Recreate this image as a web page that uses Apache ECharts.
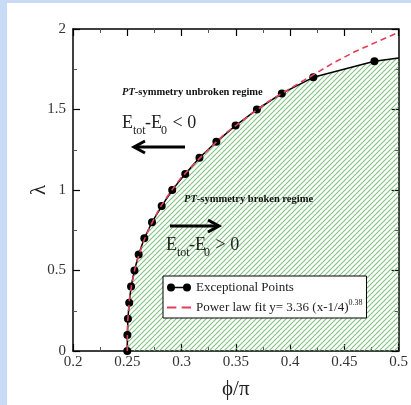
<!DOCTYPE html>
<html><head><meta charset="utf-8">
<script src="https://cdn.jsdelivr.net/npm/echarts@6/dist/echarts.min.js"></script>
<style>html,body{margin:0;padding:0;background:#fff}#c{width:411px;height:405px}</style>
</head><body><div id="c"></div>
<script>
// Exceptional points (phi/pi, lambda)
const epX = [0.25, 0.2501, 0.2506, 0.2518, 0.2535, 0.2566, 0.2605, 0.2657, 0.2728, 0.2817, 0.2914, 0.3034, 0.3165, 0.3321, 0.3498, 0.3694, 0.3924, 0.4214, 0.4777, 0.5];
const epY = [0, 0.1, 0.2, 0.3, 0.4, 0.5, 0.6, 0.7, 0.8, 0.9, 1.0, 1.1, 1.2, 1.3, 1.4, 1.5, 1.6, 1.7, 1.8, 1.82];
// Power law fit curve
const fitX = [0.25, 0.2502, 0.2505, 0.251, 0.252, 0.254, 0.257, 0.26, 0.265, 0.27, 0.28, 0.29, 0.30, 0.32, 0.34, 0.36, 0.38, 0.40, 0.42, 0.44, 0.46, 0.48, 0.50];
const fitY = [0, 0.13, 0.19, 0.24, 0.32, 0.41, 0.51, 0.58, 0.68, 0.76, 0.89, 0.99, 1.08, 1.22, 1.35, 1.45, 1.55, 1.63, 1.71, 1.79, 1.86, 1.92, 1.98];
const xTicks = {min: 0.2, max: 0.5, interval: 0.05};
const yTicks = {min: 0, max: 2, interval: 0.5};
const seriesNames = ['Exceptional Points', 'Power law fit y= 3.36 (x-1/4)'];
const supText = '0.38';

const serif = 'Liberation Serif, DejaVu Serif, serif';

// hatch pattern
const pc = document.createElement('canvas');
pc.width = 5; pc.height = 5;
const g = pc.getContext('2d');
g.strokeStyle = 'rgba(115,185,115,0.9)';
g.lineWidth = 1.1;
g.beginPath();
g.moveTo(-1, 6); g.lineTo(6, -1);
g.moveTo(-3.5, 3.5); g.lineTo(3.5, -3.5);
g.moveTo(1.5, 8.5); g.lineTo(8.5, 1.5);
g.stroke();

const epData = epX.map((x, i) => {
  const d = {value: [x, epY[i]]};
  if (i === epX.length - 1) d.symbol = 'none';
  return d;
});
const fitData = fitX.map((x, i) => [x, fitY[i]]);

function fmt(v) { return String(+v.toFixed(2)); }

const axisLine = {show: true, onZero: false, lineStyle: {color: '#000', width: 1.5}};
const axisTick = {show: true, inside: true, length: 7, lineStyle: {color: '#000', width: 1.2}};
const minorTick = {show: true, splitNumber: 2, length: 4, lineStyle: {color: '#555', width: 1}};

function sub(x, y, t) {
  return {type: 'text', x: x, y: y, z: 100, style: {text: t, font: '12px ' + serif, fill: '#222', verticalAlign: 'middle'}};
}
function main(x, y, t) {
  return {type: 'text', x: x, y: y, z: 100, style: {text: t, font: '18px ' + serif, fill: '#222', verticalAlign: 'middle'}};
}
const richPT = {i: {fontFamily: serif, fontSize: 10.5, fontWeight: 'bold', fontStyle: 'italic', fill: '#111'},
                b: {fontFamily: serif, fontSize: 10.5, fontWeight: 'bold', fill: '#111'}};

const chart = echarts.init(document.getElementById('c'), null, {renderer: 'canvas'});
chart.setOption({
  animation: false,
  backgroundColor: '#fff',
  grid: {left: 73, top: 29, right: 11, bottom: 54, containLabel: false},
  xAxis: [
    Object.assign({type: 'value', position: 'bottom', axisLine, axisTick, minorTick,
      splitLine: {show: false},
      axisLabel: {fontFamily: serif, fontSize: 15, color: '#333', margin: 4, formatter: fmt},
      name: 'ϕ/π', nameLocation: 'middle', nameGap: 28, nameMoveOverlap: false,
      nameTextStyle: {fontFamily: serif, fontSize: 21, color: '#222'}}, xTicks),
    Object.assign({type: 'value', position: 'top', axisLine, axisTick, minorTick,
      splitLine: {show: false}, axisLabel: {show: false}}, xTicks)
  ],
  yAxis: [
    Object.assign({type: 'value', position: 'left', axisLine, axisTick, minorTick,
      splitLine: {show: false},
      axisLabel: {fontFamily: serif, fontSize: 15, color: '#333', margin: 7, formatter: fmt},
      name: 'λ', nameLocation: 'middle', nameGap: 23, nameMoveOverlap: false,
      nameTextStyle: {fontFamily: serif, fontSize: 21, color: '#222'}}, yTicks),
    Object.assign({type: 'value', position: 'right', axisLine, axisTick, minorTick,
      splitLine: {show: false}, axisLabel: {show: false}}, yTicks)
  ],
  legend: {
    left: 163, top: 276, orient: 'vertical',
    padding: [5, 4, 4, 4], itemGap: 5, itemWidth: 24, itemHeight: 8,
    borderColor: '#000', borderWidth: 1, backgroundColor: '#fff', borderRadius: 0,
    selectedMode: false,
    textStyle: {fontFamily: serif, fontSize: 13, color: '#222',
      rich: {sup: {fontFamily: serif, fontSize: 8, color: '#222', padding: [0, 0, 9, 0]}}},
    formatter: function (n) { return n === seriesNames[1] ? n + '{sup|' + supText + '}' : n; },
    data: [
      {name: seriesNames[0], icon: 'path://M0,4A4,4,0,1,1,8,4A4,4,0,1,1,0,4ZM16,4A4,4,0,1,1,24,4A4,4,0,1,1,16,4ZM7.5,3.3H16.5V4.7H7.5Z',
        itemStyle: {color: '#000', borderWidth: 0}},
      {name: seriesNames[1], icon: 'path://M3,3.2H10V4.8H3ZM14,3.2H21V4.8H14Z', itemStyle: {color: '#e0405a', borderWidth: 0}}
    ]
  },
  series: [
    {name: seriesNames[0], type: 'line', data: epData, symbol: 'circle', symbolSize: 8,
      itemStyle: {color: '#000'}, lineStyle: {color: '#000', width: 1.5},
      areaStyle: {color: {image: pc, repeat: 'repeat'}, opacity: 1}, z: 2},
    {name: seriesNames[1], type: 'line', data: fitData, showSymbol: false, symbol: 'none',
      itemStyle: {color: '#e0405a'}, lineStyle: {color: '#e0405a', width: 1.6, type: [6, 4]}, z: 3}
  ],
  graphic: [
    {type: 'rect', shape: {x: 0, y: 0, width: 7, height: 405}, style: {fill: '#c7daf6'}, z: 100},
    {type: 'rect', shape: {x: 0, y: 0, width: 411, height: 3}, style: {fill: '#c7daf6'}, z: 100},
    {type: 'text', x: 122, y: 92, z: 100, style: {text: '{i|PT}{b|-symmetry unbroken regime}', fill: '#111', verticalAlign: 'middle', rich: richPT}},
    {type: 'text', x: 184, y: 199, z: 100, style: {text: '{i|PT}{b|-symmetry broken regime}', fill: '#111', verticalAlign: 'middle', rich: richPT}},
    main(122, 123, 'E'), sub(133, 131, 'tot'), main(145, 123, '-E'), sub(161, 131, '0'), main(168, 123, ' < 0'),
    main(166, 245, 'E'), sub(177, 253, 'tot'), main(189, 245, '-E'), sub(204, 253, '0'), main(211, 245, ' > 0'),
    {type: 'line', z: 100, shape: {x1: 135, y1: 147, x2: 185, y2: 147}, style: {stroke: '#000', lineWidth: 3}},
    {type: 'polyline', z: 100, shape: {points: [[145, 141], [134, 147], [145, 153]]}, style: {stroke: '#000', lineWidth: 3, fill: null}},
    {type: 'line', z: 100, shape: {x1: 170, y1: 226, x2: 219, y2: 226}, style: {stroke: '#000', lineWidth: 3}},
    {type: 'polyline', z: 100, shape: {points: [[208, 220], [219, 226], [208, 232]]}, style: {stroke: '#000', lineWidth: 3, fill: null}}
  ]
});
</script></body></html>
